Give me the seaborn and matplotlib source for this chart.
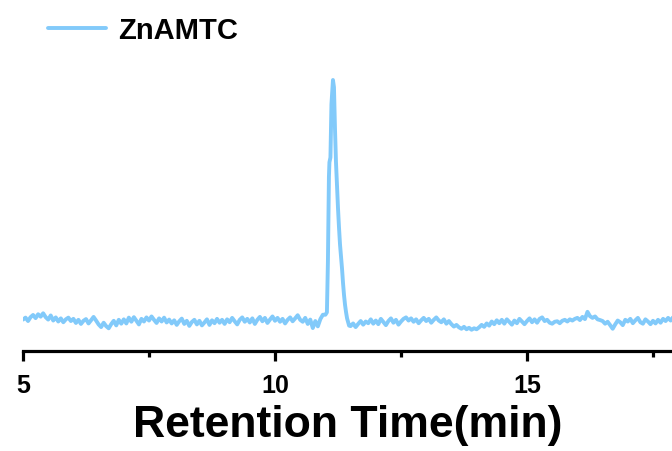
import numpy as np
import pandas as pd
import matplotlib
matplotlib.use("Agg")
import matplotlib.pyplot as plt
import seaborn as sns
from matplotlib.ticker import MultipleLocator

# ---- data ----
series_name = "ZnAMTC"
x_label = "Retention Time(min)"
x_ticks = [5, 10, 15]
x_tick_labels = ["5", "10", "15"]

# baseline before the peak: 5.00 .. 10.95 min, sampled every 0.05 min
pre_start, pre_step = 5.00, 0.05
pre_signal = [
    1.0, 1.8, 0.4, 2.0, 2.9, 1.6, 3.2, 2.2, 3.6, 2.0,
    1.0, 2.7, 0.6, 1.9, 0.2, 1.5, -0.1, 1.1, 1.8, 0.4,
    1.3, -0.4, 0.9, -0.8, 0.5, 1.2, -0.6, 0.7, 2.1, 0.6,
    -1.0, -2.1, -0.3, -1.7, -2.6, -0.9, 0.5, -1.4, 0.9, -0.7,
    1.1, -0.6, 1.8, 0.1, 2.0, 0.5, -1.0, 1.3, 0.2, 1.9,
    0.6, 2.3, 0.9, -0.4, 1.5, 0.2, 1.8, -0.2, 1.0, -0.6,
    0.7, -1.2, 0.3, 1.4, -0.8, 0.5, -1.6, 0.0, 0.9, -1.0,
    0.5, -1.4, -0.2, 1.1, -1.2, 0.7, -0.5, 1.3, -0.3, 0.9,
    -0.8, 1.1, -0.1, 1.7, 0.3, -1.0, 0.9, 1.9, 0.1, 1.3,
    -0.2, 1.5, -0.8, 0.9, 2.1, 0.3, 1.7, -0.4, 1.0, 2.3,
    0.5, 1.7, 0.1, 1.3, -0.6, 0.9, 1.9, 0.3, 1.5, 2.8,
    0.9, 0.1, 1.7, -0.8, 1.0, -2.5, 0.4, -1.8, 1.2, 3.0,
]

# peak region
peak_time = [11.00, 11.03, 11.05, 11.07, 11.08, 11.10, 11.12, 11.15, 11.17,
             11.19, 11.21, 11.23, 11.25, 11.27, 11.29, 11.31, 11.33, 11.35,
             11.37, 11.39, 11.41, 11.43, 11.45, 11.47]
peak_signal = [3.0, 4.0, 25.0, 60.0, 66.0, 68.0, 90.0, 100.0, 97.0,
               80.0, 66.0, 56.0, 47.0, 39.0, 32.0, 27.0, 22.0, 16.0,
               11.0, 7.0, 4.0, 1.5, 0.0, -1.5]

# baseline after the peak: 11.50 .. 17.90 min, sampled every 0.05 min
post_start, post_step = 11.50, 0.05
post_signal = [
    -1.7, -0.6, -2.1, -0.8, 0.4, -1.1, 0.2, -0.5, 1.1, -0.7,
    0.6, -0.9, 1.3, 0.0, -1.3, 0.4, 1.5, -0.3, 0.9, -1.1,
    0.2, 1.3, 1.9, 0.6, 1.5, 0.1, 1.1, -0.5, 0.7, 1.7,
    0.4, 1.3, -0.3, 0.9, 1.9, 0.6, -0.1, 1.1, -0.7, 0.4,
    -0.9, -1.9, -1.2, -2.2, -2.8, -2.0, -3.0, -2.4, -3.2, -2.6,
    -3.0, -2.2, -1.2, -2.0, -0.6, -1.5, 0.2, -0.9, 0.7, -0.5,
    0.9, -0.7, 1.1, 0.0, -1.1, 0.6, -0.5, 1.3, 0.2, -0.9,
    0.4, 1.5, -0.1, 1.1, -0.3, 1.3, 1.9, 0.4, 0.9, -0.3,
    -0.7, 0.1, 0.3, -0.5, 0.5, 0.9, 0.2, 1.1, 0.6, 1.3,
    1.7, 0.8, 2.1, 1.2, 4.2, 2.4, 1.7, 2.3, 1.1, 0.8,
    0.4, -0.7, 0.1, -1.3, -2.8, -1.0, 0.6, -0.1, -1.3, 0.9,
    0.2, 1.3, -0.5, 0.7, 1.7, -0.1, -0.7, 1.1, 0.2, -0.9,
    0.5, -0.6, 0.9, -0.3, 1.3, 0.4, 1.7, 0.6, 2.0,
]

pre_time = [round(pre_start + i * pre_step, 3) for i in range(len(pre_signal))]
post_time = [round(post_start + i * post_step, 3) for i in range(len(post_signal))]

df = pd.DataFrame({
    "time": pre_time + peak_time + post_time,
    "signal": pre_signal + peak_signal + post_signal,
})

# ---- style ----
sns.set_style("white")
plt.rcParams["font.family"] = ["Liberation Sans", "DejaVu Sans"]
plt.rcParams["font.weight"] = "bold"
plt.rcParams["text.color"] = "black"
plt.rcParams["axes.labelcolor"] = "black"
plt.rcParams["xtick.color"] = "black"
plt.rcParams["xtick.labelcolor"] = "black"

W, H = 672, 452
fig = plt.figure(figsize=(W / 100, H / 100), dpi=100)
ax_left = 23 / W
ax_bottom = 1 - 352 / H
ax = fig.add_axes([ax_left, ax_bottom, 1 - ax_left, 1 - ax_bottom])

line_color = "#82CAFA"
sns.lineplot(data=df, x="time", y="signal", ax=ax, color=line_color,
             linewidth=2.8, label=series_name, sort=False)

ax.set_xlim(5, 5 + (W - 23) / 50.4)
ax.set_ylim(-(352 - 323) / 2.42, 323 / 2.42)

for s in ["top", "right", "left"]:
    ax.spines[s].set_visible(False)
ax.spines["bottom"].set_linewidth(2.3)
ax.spines["bottom"].set_color("black")

ax.set_xticks(x_ticks)
ax.set_xticklabels(x_tick_labels, fontsize=18, fontweight="bold", color="black")
ax.xaxis.set_minor_locator(MultipleLocator(2.5))
ax.tick_params(axis="x", which="major", direction="out", length=7, width=2.3,
               color="black", pad=9, bottom=True)
ax.tick_params(axis="x", which="minor", direction="out", length=4.5, width=2.3,
               color="black", bottom=True)
ax.set_yticks([])
ax.set_ylabel("")
ax.set_xlabel(x_label, fontsize=32, fontweight="bold", labelpad=5, color="black")

leg = ax.legend(loc="center left", bbox_to_anchor=(48 / W, 1 - 31 / H),
                bbox_transform=fig.transFigure, frameon=False, borderpad=0,
                borderaxespad=0, handlelength=2.0, handletextpad=0.4,
                prop={"size": 21, "weight": "bold"})
for h in leg.get_lines():
    h.set_linewidth(2.8)
for t in leg.get_texts():
    t.set_color("black")

fig.savefig("out.png", dpi=100)
